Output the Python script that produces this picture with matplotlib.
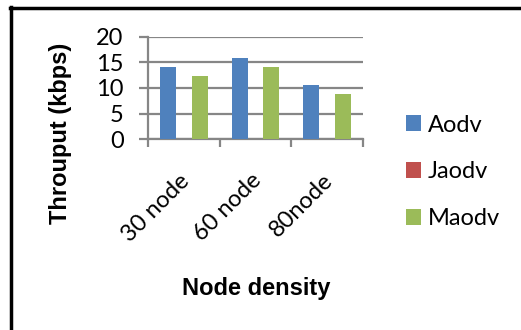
import matplotlib
matplotlib.use("Agg")
import matplotlib.pyplot as plt
import matplotlib.transforms as mtransforms
from matplotlib.lines import Line2D
import numpy as np

# datos
categorias = ["30 node", "60 node", "80node"]
aodv = [14.1, 15.8, 10.6]
jaodv = [0, 0, 0]
maodv = [12.4, 14.1, 8.8]
series = ["Aodv", "Jaodv", "Maodv"]
colores = ["#4F81BD", "#C0504D", "#9BBB59"]

fuente = ["Lato", "DejaVu Sans"]
fuente_bold = ["Liberation Sans", "DejaVu Sans"]
gris = "#868686"

fig = plt.figure(figsize=(5.21, 3.30), dpi=100)
ax = fig.add_axes([148 / 521, 1 - 139.3 / 330, (363 - 148) / 521, (139.3 - 36.7) / 330])

x = np.arange(len(categorias))
ancho = 0.222
for i, (nombre, valores) in enumerate(zip(series, [aodv, jaodv, maodv])):
    ax.bar(x + (i - 1) * ancho, valores, ancho, color=colores[i], label=nombre, zorder=3)

ax.set_xlim(-0.5, 2.5)
ax.set_ylim(0, 20)
ax.set_yticks([0, 5, 10, 15, 20])
ax.yaxis.grid(True, color=gris, linewidth=1.6, zorder=0)
for lado in ["top", "right"]:
    ax.spines[lado].set_visible(False)
for lado in ["left", "bottom"]:
    ax.spines[lado].set_color(gris)
    ax.spines[lado].set_linewidth(1.6)

ax.tick_params(axis="y", direction="out", length=6.5, width=1.6, color=gris,
               labelsize=17, pad=11)
for t in ax.get_yticklabels():
    t.set_family(fuente)

# marcas del eje X entre categorias
ax.set_xticks(x)
ax.set_xticks(np.arange(-0.5, 3, 1), minor=True)
ax.tick_params(axis="x", which="major", length=0, pad=22, labelsize=17)
ax.tick_params(axis="x", which="minor", direction="out", length=6, width=1.6, color=gris)
ax.set_xticklabels(categorias, rotation=45, ha="right", va="top", family=fuente)
desplaza = mtransforms.ScaledTranslation(10 / 100, 0, fig.dpi_scale_trans)
for t in ax.get_xticklabels():
    t.set_transform(t.get_transform() + desplaza)

fig.text(60 / 521, 1 - 133 / 330, "Throuput (kbps)", rotation=90, ha="center", va="center",
         fontsize=17, fontweight="bold", family=fuente_bold)
fig.text(256 / 521, 1 - 288 / 330, "Node density", ha="center", va="center",
         fontsize=17, fontweight="bold", family=fuente_bold)

ax.legend(loc="center left", bbox_to_anchor=(406 / 521, 1 - 172 / 330),
          bbox_transform=fig.transFigure, frameon=False, borderpad=0, borderaxespad=0,
          prop={"family": fuente, "size": 17}, labelspacing=1.1,
          handlelength=0.63, handleheight=0.63, handletextpad=0.3)

# borde negro (recortado a la derecha y abajo)
fig.add_artist(Line2D([10 / 521, 1], [1 - 8 / 330, 1 - 8 / 330], color="black",
                      linewidth=2.5, transform=fig.transFigure))
fig.add_artist(Line2D([11 / 521, 11 / 521], [0, 1 - 7 / 330], color="black",
                      linewidth=2.5, transform=fig.transFigure))

fig.savefig("out.png", dpi=100)
